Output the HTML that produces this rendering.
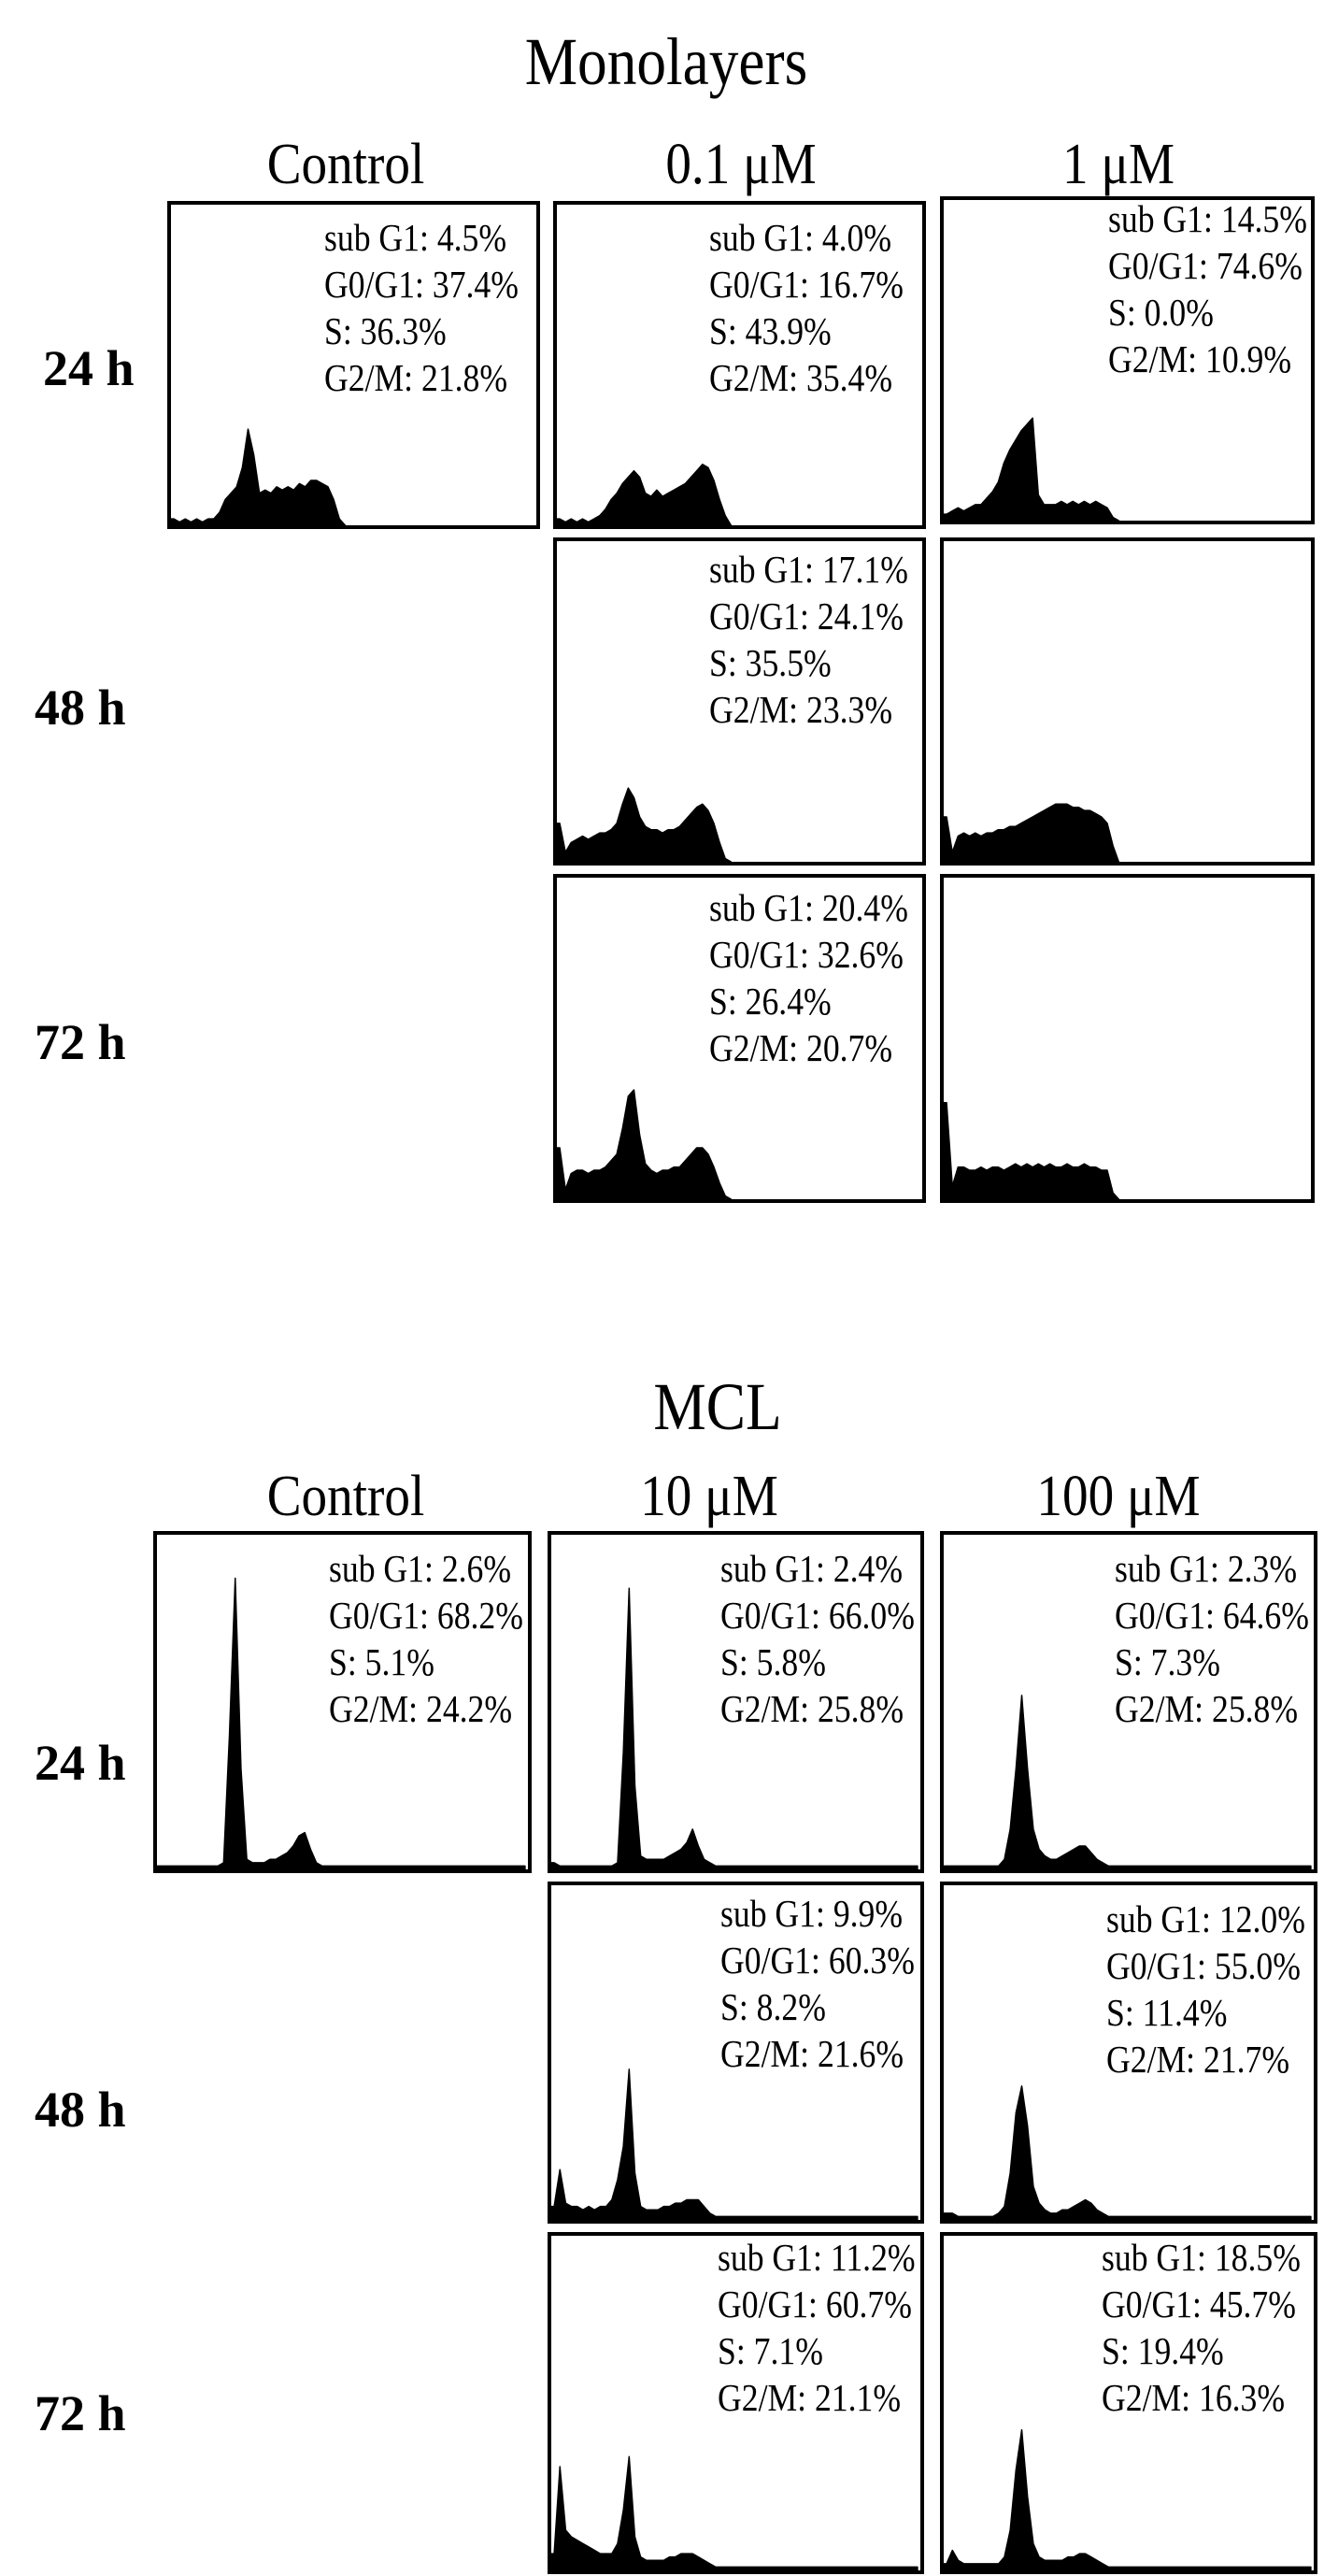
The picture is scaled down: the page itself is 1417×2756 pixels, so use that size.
<!DOCTYPE html>
<html><head><meta charset="utf-8"><style>
html,body{margin:0;padding:0;background:#fff;}
svg{display:block;}
</style></head><body>
<svg id="fig" xmlns="http://www.w3.org/2000/svg" width="1417" height="2756" viewBox="0 0 1417 2756" font-family="'Liberation Serif', 'Times New Roman', serif"></svg>
<script>
// ===== data: histogram counts (% of panel height) over 64 DNA-content bins =====
const bins = Array.from({length:64},(_, i)=>i);
const mono_ctrl_24 = [2,1,2,1,2,1,2,2,4,8,10,12,18,30,22,10,11,10,12,11,12,11,13,12,14,14,13,12,8,2,0,0,0,0,0,0,0,0,0,0,0,0,0,0,0,0,0,0,0,0,0,0,0,0,0,0,0,0,0,0,0,0,0,0];
const mono_01_24 = [2,1,2,1,2,1,2,3,5,8,10,13,15,17,15,10,9,11,9,10,11,12,13,15,17,19,18,14,8,3,0,0,0,0,0,0,0,0,0,0,0,0,0,0,0,0,0,0,0,0,0,0,0,0,0,0,0,0,0,0,0,0,0,0];
const mono_1_24 = [2,3,4,3,4,5,5,7,9,12,18,22,25,28,30,32,8,5,5,5,6,5,6,5,6,5,6,5,4,1,0,0,0,0,0,0,0,0,0,0,0,0,0,0,0,0,0,0,0,0,0,0,0,0,0,0,0,0,0,0,0,0,0,0];
const mono_01_48 = [12,3,6,7,8,7,8,9,9,10,12,18,23,20,14,11,10,10,9,10,10,11,13,15,17,18,16,12,6,1,0,0,0,0,0,0,0,0,0,0,0,0,0,0,0,0,0,0,0,0,0,0,0,0,0,0,0,0,0,0,0,0,0,0];
const mono_1_48 = [14,3,8,9,8,9,8,9,9,10,10,11,11,12,13,14,15,16,17,18,18,18,17,17,16,16,15,14,12,5,0,0,0,0,0,0,0,0,0,0,0,0,0,0,0,0,0,0,0,0,0,0,0,0,0,0,0,0,0,0,0,0,0,0];
const mono_01_72 = [16,3,8,9,9,8,9,9,10,12,14,22,32,34,20,11,9,8,9,9,10,10,12,14,16,16,14,10,5,1,0,0,0,0,0,0,0,0,0,0,0,0,0,0,0,0,0,0,0,0,0,0,0,0,0,0,0,0,0,0,0,0,0,0];
const mono_1_72 = [30,4,10,10,9,9,10,9,10,10,9,10,11,10,11,10,11,10,11,10,10,11,10,10,11,10,10,9,9,2,0,0,0,0,0,0,0,0,0,0,0,0,0,0,0,0,0,0,0,0,0,0,0,0,0,0,0,0,0,0,0,0,0,0];
const mcl_ctrl_24 = [1,1,1,1,1,1,1,1,1,1,1,2,40,87,30,3,2,2,2,3,3,4,5,7,10,11,6,2,1,1,1,1,1,1,1,1,1,1,1,1,1,1,1,1,1,1,1,1,1,1,1,1,1,1,1,1,1,1,1,1,1,1,1,1];
const mcl_10_24 = [2,1,1,1,1,1,1,1,1,1,1,2,35,84,25,4,3,3,3,3,4,5,6,8,12,7,3,2,1,1,1,1,1,1,1,1,1,1,1,1,1,1,1,1,1,1,1,1,1,1,1,1,1,1,1,1,1,1,1,1,1,1,1,1];
const mcl_100_24 = [1,1,1,1,1,1,1,1,1,1,3,12,30,52,30,12,6,4,3,3,4,5,6,7,7,5,3,2,1,1,1,1,1,1,1,1,1,1,1,1,1,1,1,1,1,1,1,1,1,1,1,1,1,1,1,1,1,1,1,1,1,1,1,1];
const mcl_10_48 = [4,15,5,4,4,3,4,3,4,4,6,12,22,45,14,4,3,3,3,4,4,5,5,6,6,6,4,2,1,1,1,1,1,1,1,1,1,1,1,1,1,1,1,1,1,1,1,1,1,1,1,1,1,1,1,1,1,1,1,1,1,1,1,1];
const mcl_100_48 = [2,2,1,1,1,1,1,1,1,2,4,14,32,40,28,10,5,3,2,2,3,3,4,5,6,5,3,2,1,1,1,1,1,1,1,1,1,1,1,1,1,1,1,1,1,1,1,1,1,1,1,1,1,1,1,1,1,1,1,1,1,1,1,1];
const mcl_10_72 = [5,31,12,10,9,8,7,6,5,5,5,8,18,34,10,4,3,3,3,3,4,4,5,5,5,4,3,2,1,1,1,1,1,1,1,1,1,1,1,1,1,1,1,1,1,1,1,1,1,1,1,1,1,1,1,1,1,1,1,1,1,1,1,1];
const mcl_100_72 = [2,6,3,2,2,2,2,2,2,2,4,12,30,42,22,8,4,3,3,3,3,4,4,5,5,4,3,2,1,1,1,1,1,1,1,1,1,1,1,1,1,1,1,1,1,1,1,1,1,1,1,1,1,1,1,1,1,1,1,1,1,1,1,1];

const monoStats = [
  ["sub G1: 4.5%","G0/G1: 37.4%","S: 36.3%","G2/M: 21.8%"],
  ["sub G1: 4.0%","G0/G1: 16.7%","S: 43.9%","G2/M: 35.4%"],
  ["sub G1: 14.5%","G0/G1: 74.6%","S: 0.0%","G2/M: 10.9%"],
  ["sub G1: 17.1%","G0/G1: 24.1%","S: 35.5%","G2/M: 23.3%"],
  ["sub G1: 20.4%","G0/G1: 32.6%","S: 26.4%","G2/M: 20.7%"]
];
const mclStats = [
  ["sub G1: 2.6%","G0/G1: 68.2%","S: 5.1%","G2/M: 24.2%"],
  ["sub G1: 2.4%","G0/G1: 66.0%","S: 5.8%","G2/M: 25.8%"],
  ["sub G1: 2.3%","G0/G1: 64.6%","S: 7.3%","G2/M: 25.8%"],
  ["sub G1: 9.9%","G0/G1: 60.3%","S: 8.2%","G2/M: 21.6%"],
  ["sub G1: 12.0%","G0/G1: 55.0%","S: 11.4%","G2/M: 21.7%"],
  ["sub G1: 11.2%","G0/G1: 60.7%","S: 7.1%","G2/M: 21.1%"],
  ["sub G1: 18.5%","G0/G1: 45.7%","S: 19.4%","G2/M: 16.3%"]
];

const NS = "http://www.w3.org/2000/svg";
const svg = document.getElementById('fig');
function mk(tag, attrs, parent){
  const e = document.createElementNS(NS, tag);
  for (const k in attrs) e.setAttribute(k, attrs[k]);
  (parent||svg).appendChild(e);
  return e;
}
function txt(str, x, y, size, sx, anchor, weight, name){
  const t = mk('text', {x:0, y:0, 'font-size':size, 'text-anchor':anchor||'start', 'font-weight':weight||'normal', fill:'#000',
    transform:`translate(${x},${y}) scale(${sx},1)`});
  t.textContent = str;
  
  
  return t;
}
function panel(name, x, y, w, h, counts, stats, tx, ty){
  const g = mk('g', {});
  
  
  const xs = i => x + 2 + (bins[i] + 0.5) / bins.length * (w - 4);
  const ys = v => y + h - 2 - v / 100 * (h - 4);
  let last = 0;
  counts.forEach((v,i)=>{ if (v > 0) last = i; });
  let d = `M${x+2},${y+h-2} L${x+2},${ys(counts[0])}`;
  for (let i = 0; i <= Math.min(last+1, counts.length-1); i++) d += ` L${xs(i)},${ys(counts[i])}`;
  d += ` L${xs(Math.min(last+1, counts.length-1))},${y+h-2} Z`;
  const p = mk('path', {d, fill:'#000', stroke:'#000', 'stroke-width':1.5, 'stroke-linejoin':'round'}, g);
  
  
  const r = mk('rect', {x, y, width:w, height:h, fill:'none', stroke:'#000', 'stroke-width':4}, g);
  
  
  if (stats){
    stats.forEach((s, k)=>{
      const t = mk('text', {x:0, y:0, 'font-size':41, fill:'#000', transform:`translate(${tx},${ty + k*50}) scale(0.87,1)`}, g);
      t.textContent = s;
      
      
    });
  }
}

// ===== Monolayers =====
txt("Monolayers", 713, 90, 72, 0.88, 'middle', 'normal', 'monolayers-title');
txt("Control", 370, 196, 62, 0.89, 'middle', 'normal', 'mono-control-header');
txt("0.1 \u03BCM", 793, 196, 62, 0.89, 'middle', 'normal', 'mono-0.1um-header');
txt("1 \u03BCM", 1197, 196, 62, 0.89, 'middle', 'normal', 'mono-1um-header');
txt("24 h", 46, 412, 54, 1, 'start', 'bold', 'mono-24h-label');
txt("48 h", 37, 775, 54, 1, 'start', 'bold', 'mono-48h-label');
txt("72 h", 37, 1133, 54, 1, 'start', 'bold', 'mono-72h-label');

panel('mono-control-24h', 181, 217, 395, 347, mono_ctrl_24, monoStats[0], 347, 268);
panel('mono-0.1um-24h', 594, 217, 395, 347, mono_01_24, monoStats[1], 759, 268);
panel('mono-1um-24h', 1008, 212, 397, 347, mono_1_24, monoStats[2], 1186, 248);
panel('mono-0.1um-48h', 594, 577, 395, 347, mono_01_48, monoStats[3], 759, 623);
panel('mono-1um-48h', 1008, 577, 397, 347, mono_1_48, null);
panel('mono-0.1um-72h', 594, 937, 395, 348, mono_01_72, monoStats[4], 759, 985);
panel('mono-1um-72h', 1008, 937, 397, 348, mono_1_72, null);

// ===== MCL =====
txt("MCL", 768, 1529, 72, 0.88, 'middle', 'normal', 'mcl-title');
txt("Control", 370, 1621, 62, 0.89, 'middle', 'normal', 'mcl-control-header');
txt("10 \u03BCM", 759, 1621, 62, 0.89, 'middle', 'normal', 'mcl-10um-header');
txt("100 \u03BCM", 1197, 1621, 62, 0.89, 'middle', 'normal', 'mcl-100um-header');
txt("24 h", 37, 1904, 54, 1, 'start', 'bold', 'mcl-24h-label');
txt("48 h", 37, 2275, 54, 1, 'start', 'bold', 'mcl-48h-label');
txt("72 h", 37, 2600, 54, 1, 'start', 'bold', 'mcl-72h-label');

panel('mcl-control-24h', 166, 1640, 401, 362, mcl_ctrl_24, mclStats[0], 352, 1692);
panel('mcl-10um-24h', 588, 1640, 399, 362, mcl_10_24, mclStats[1], 771, 1692);
panel('mcl-100um-24h', 1008, 1640, 400, 362, mcl_100_24, mclStats[2], 1193, 1692);
panel('mcl-10um-48h', 588, 2015, 399, 362, mcl_10_48, mclStats[3], 771, 2061);
panel('mcl-100um-48h', 1008, 2015, 400, 362, mcl_100_48, mclStats[4], 1184, 2067);
panel('mcl-10um-72h', 588, 2390, 399, 362, mcl_10_72, mclStats[5], 768, 2429);
panel('mcl-100um-72h', 1008, 2390, 400, 362, mcl_100_72, mclStats[6], 1179, 2429);
</script>
</body></html>
